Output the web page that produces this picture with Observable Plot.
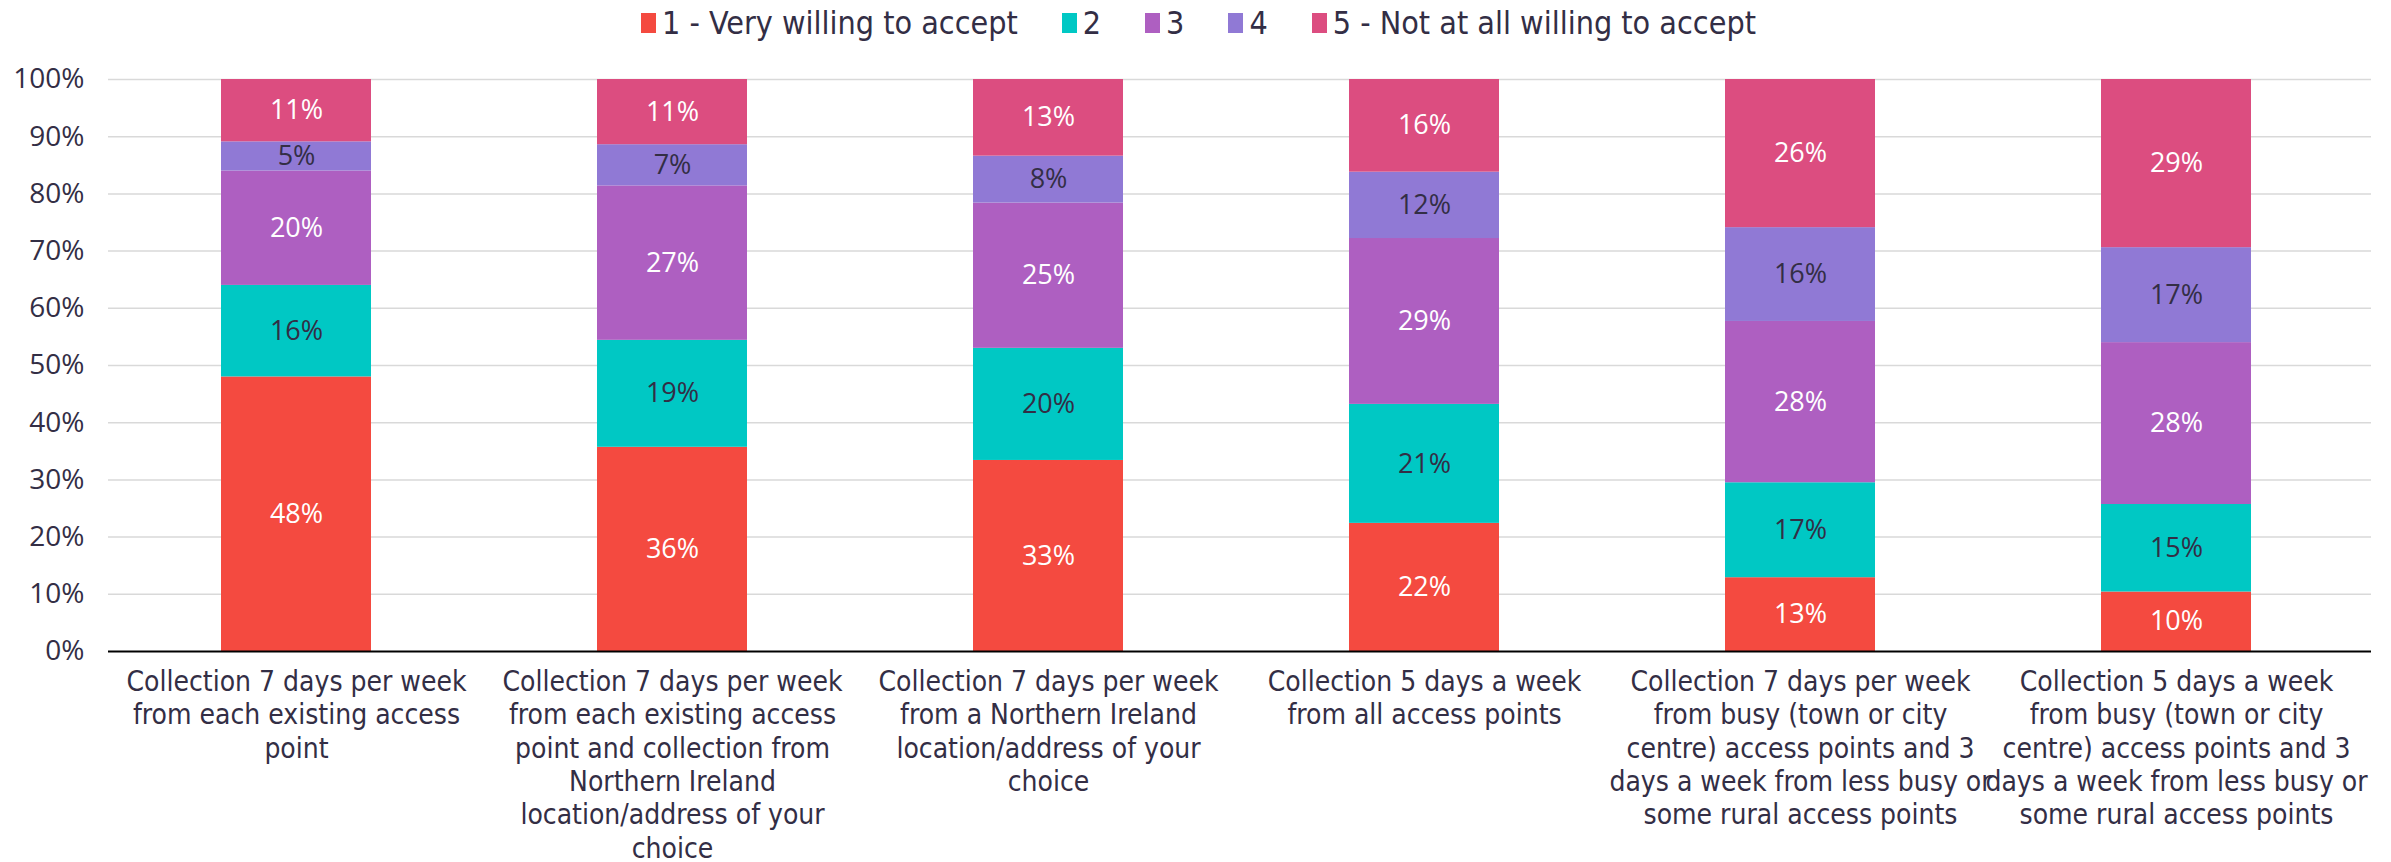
<!DOCTYPE html>
<html>
<head>
<meta charset="utf-8">
<script src="https://cdn.jsdelivr.net/npm/d3@7"></script>
<script src="https://cdn.jsdelivr.net/npm/@observablehq/plot@0.6"></script>
<style>
  html, body { margin: 0; padding: 0; background: #fff; }
  #legend { height: 45px; display: flex; justify-content: center; align-items: center; font-family: "DejaVu Sans Condensed", "DejaVu Sans", sans-serif; font-stretch: condensed; font-size: 32px; color: #332E45; padding-left: 6px; box-sizing: border-box; }
  .item { display: flex; align-items: center; margin: 0 22px; }
  .sw { width: 15px; height: 20px; margin-right: 6px; }
</style>
</head>
<body>
<div id="legend"></div>
<div id="chart"></div>
<script>
const categories = [
  "Collection 7 days per week from each existing access point",
  "Collection 7 days per week from each existing access point and collection from Northern Ireland location/address of your choice",
  "Collection 7 days per week from a Northern Ireland location/address of your choice",
  "Collection 5 days a week from all access points",
  "Collection 7 days per week from busy (town or city centre) access points and 3 days a week from less busy or some rural access points",
  "Collection 5 days a week from busy (town or city centre) access points and 3 days a week from less busy or some rural access points"
];
const xTickLabels = [
  "Collection 7 days per week\nfrom each existing access\npoint",
  "Collection 7 days per week\nfrom each existing access\npoint and collection from\nNorthern Ireland\nlocation/address of your\nchoice",
  "Collection 7 days per week\nfrom a Northern Ireland\nlocation/address of your\nchoice",
  "Collection 5 days a week\nfrom all access points",
  "Collection 7 days per week\nfrom busy (town or city\ncentre) access points and 3\ndays a week from less busy or\nsome rural access points",
  "Collection 5 days a week\nfrom busy (town or city\ncentre) access points and 3\ndays a week from less busy or\nsome rural access points"
];
const ratings = ["1 - Very willing to accept", "2", "3", "4", "5 - Not at all willing to accept"];
const colors = ["#F44A40", "#00C8C4", "#AE5FC1", "#9079D5", "#DC4D80"];
const labelColors = ["#ffffff", "#332E45", "#ffffff", "#332E45", "#ffffff"];
// percentages per rating (one value per category)
const rating1 = [48.0, 35.7, 33.4, 22.4, 12.9, 10.4];
const rating2 = [16.0, 18.7, 19.6, 20.8, 16.6, 15.3];
const rating3 = [20.0, 27.0, 25.4, 29.0, 28.2, 28.3];
const rating4 = [5.1, 7.2, 8.2, 11.6, 16.4, 16.6];
const rating5 = [10.9, 11.4, 13.4, 16.2, 25.9, 29.4];
const yTicks = [0, 10, 20, 30, 40, 50, 60, 70, 80, 90, 100];

const series = [rating1, rating2, rating3, rating4, rating5];
const data = [];
categories.forEach((c, i) => {
  series.forEach((s, r) => data.push({category: c, rating: ratings[r], value: s[i], idx: r}));
});

// legend
const legend = document.getElementById("legend");
ratings.forEach((r, i) => {
  const it = document.createElement("div");
  it.className = "item";
  it.innerHTML = `<span class="sw" style="background:${colors[i]}"></span><span>${r}</span>`;
  legend.appendChild(it);
});

const textColor = "#332E45";
const condensed = "'DejaVu Sans Condensed', 'DejaVu Sans', sans-serif";
const chart = Plot.plot({
  width: 2391,
  height: 817,
  marginTop: 34,
  marginBottom: 211,
  marginLeft: 108,
  marginRight: 27,
  style: {fontFamily: "'Open Sans', sans-serif", color: textColor, background: "#fff", overflow: "visible"},
  x: {domain: categories, paddingInner: 0.6, paddingOuter: 0.3, label: null},
  y: {domain: [0, 100], label: null},
  color: {domain: ratings, range: colors},
  marks: [
    Plot.ruleY(yTicks.filter(d => d > 0), {stroke: "#D9D9D9", strokeWidth: 1.5, insetRight: -7}),
    Plot.barY(data, Plot.stackY({x: "category", y: "value", fill: "rating", order: null})),
    Plot.text(data, Plot.stackY({x: "category", y: "value", z: "rating", order: null,
      text: d => Math.round(d.value) + "%", fill: d => labelColors[d.idx],
      fontSize: 27, fontFamily: "'Open Sans', sans-serif"})),
    Plot.axisY({ticks: yTicks, tickFormat: d => d + "%", tickSize: 0, tickPadding: 24, fontSize: 28, fill: textColor}),
    Plot.axisX({tickSize: 0, tickPadding: 16, tickFormat: d => xTickLabels[categories.indexOf(d)],
      fontSize: 28, lineHeight: 1.19, lineAnchor: "top", fill: textColor,
      fontFamily: condensed, fontStretch: "condensed"}),
    Plot.ruleX([0], {frameAnchor: "left", stroke: "#000", strokeWidth: 1.5}),
    Plot.ruleY([0], {stroke: "#000", strokeWidth: 2, insetRight: -7})
  ]
});
document.getElementById("chart").appendChild(chart);
</script>
</body>
</html>
